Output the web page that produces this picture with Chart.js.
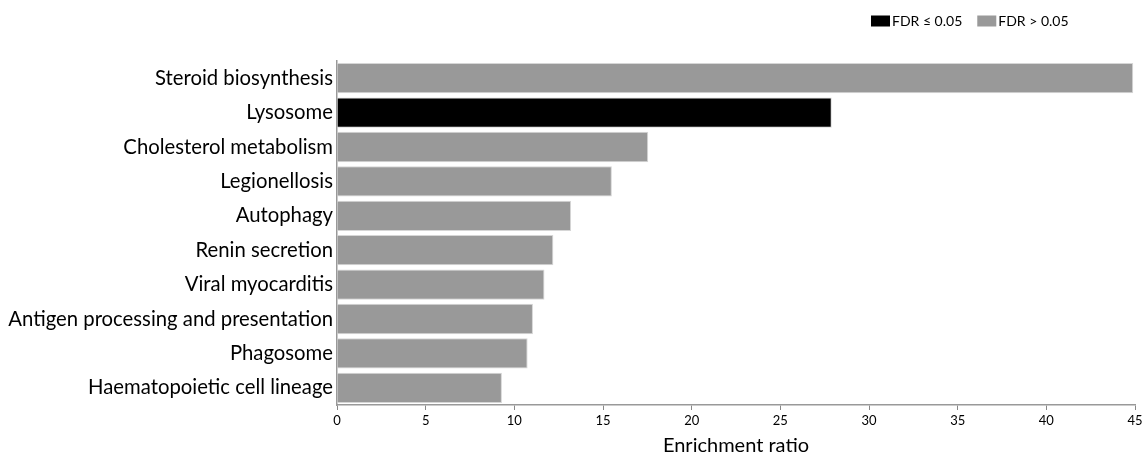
<!DOCTYPE html>
<html>
<head>
<meta charset="utf-8">
<script src="https://cdn.jsdelivr.net/npm/chart.js@4/dist/chart.umd.min.js"></script>
<style>
html,body{margin:0;padding:0;background:#fff;}
#wrap{width:1148px;height:459px;}
</style>
</head>
<body>
<div id="wrap"><canvas id="c" width="1148" height="459"></canvas></div>
<script>
const categories = [
  "Steroid biosynthesis",
  "Lysosome",
  "Cholesterol metabolism",
  "Legionellosis",
  "Autophagy",
  "Renin secretion",
  "Viral myocarditis",
  "Antigen processing and presentation",
  "Phagosome",
  "Haematopoietic cell lineage"
];
const enrichment = [44.9, 27.9, 17.55, 15.5, 13.2, 12.2, 11.7, 11.05, 10.75, 9.3];
const significant = [false, true, false, false, false, false, false, false, false, false];
const legendLabels = ["FDR \u2264 0.05", "FDR > 0.05"];
const xTicks = [0, 5, 10, 15, 20, 25, 30, 35, 40, 45];

const SIG = "#000000", NS = "#999999";
const FONT = "Lato, 'Open Sans', sans-serif";

const legendPlugin = {
  id: 'customLegend',
  afterDraw(chart) {
    const ctx = chart.ctx;
    ctx.save();
    ctx.font = "14px " + FONT;
    ctx.textBaseline = 'middle';
    ctx.textAlign = 'left';
    const y = 21;
    let x = 871;
    legendLabels.forEach((t, i) => {
      ctx.fillStyle = i === 0 ? SIG : NS;
      ctx.fillRect(x, y - 5.5, 19, 11);
      ctx.fillStyle = '#000';
      ctx.fillText(t, x + 21, y + 0.5);
      x += 21 + ctx.measureText(t).width + 15;
    });
    ctx.restore();
  }
};

new Chart(document.getElementById('c'), {
  type: 'bar',
  data: {
    labels: categories,
    datasets: [{
      data: enrichment,
      backgroundColor: significant.map(s => s ? SIG : NS),
      borderColor: "#d6d6d6",
      borderWidth: 1,
      barPercentage: 0.88,
      categoryPercentage: 1.0
    }]
  },
  plugins: [legendPlugin],
  options: {
    indexAxis: 'y',
    responsive: false,
    animation: false,
    devicePixelRatio: 1,
    layout: { padding: { left: 0, right: 13, top: 61, bottom: 0 } },
    plugins: {
      tooltip: { enabled: false },
      legend: { display: false }
    },
    scales: {
      x: {
        min: 0,
        max: 45,
        afterBuildTicks: (axis) => { axis.ticks = xTicks.map(v => ({ value: v })); },
        afterFit: (axis) => { axis.height = 54; },
        grid: { display: true, drawOnChartArea: false, drawTicks: true, tickLength: 5, color: '#888' },
        border: { display: true, color: '#999', width: 1.5 },
        ticks: { color: '#000', font: { family: FONT, size: 13 }, padding: 3, maxRotation: 0 },
        title: { display: true, text: 'Enrichment ratio', color: '#000', font: { family: FONT, size: 20 }, padding: { top: 0, bottom: 1 } }
      },
      y: {
        afterFit: (axis) => { axis.width = 337; },
        grid: { display: false, drawTicks: false, tickLength: 0 },
        border: { display: true, color: '#999', width: 1.5 },
        ticks: { color: '#000', font: { family: FONT, size: 20.3 }, padding: 4 }
      }
    }
  }
});
</script>
</body>
</html>
